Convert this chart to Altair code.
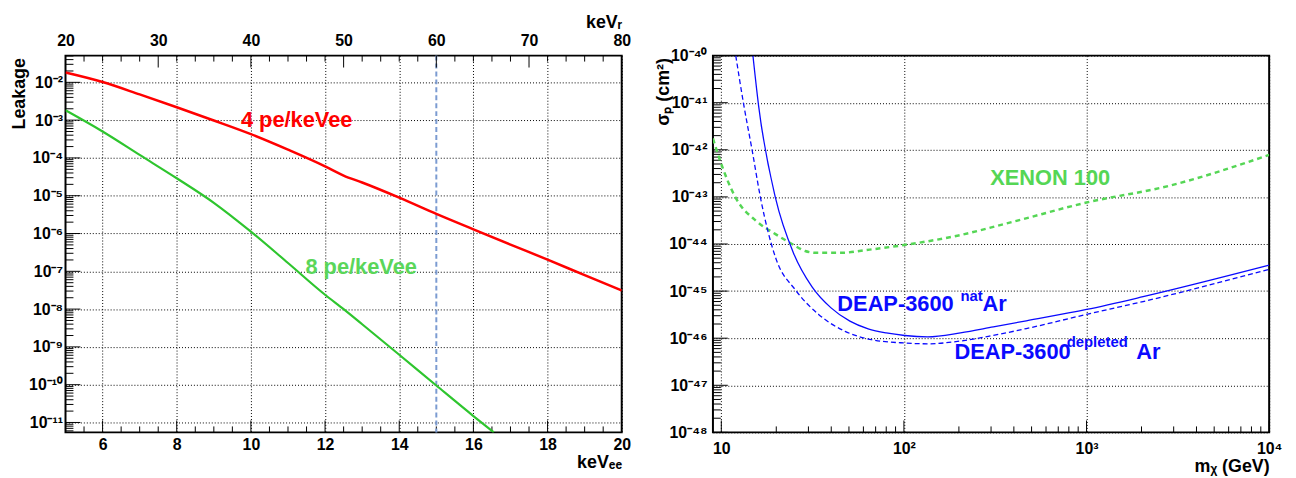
import altair as alt
import pandas as pd

# ---------------- data: left panel (leakage vs energy) ----------------
kevee_4pe = [5, 6, 7, 8, 9, 10, 11, 12, 12.5, 13, 14, 15, 16, 17, 18, 19, 20]
leak_4pe = [1.82e-2, 1.02e-2, 4.8e-3, 2.19e-3, 9.8e-4, 4.27e-4, 1.66e-4, 6.0e-5, 3.4e-5,
            2.24e-5, 8.9e-6, 3.3e-6, 1.29e-6, 5.1e-7, 2.04e-7, 7.9e-8, 3.1e-8]
kevee_8pe = [5, 6, 7, 8, 9, 10, 11, 12, 12.5, 13, 14, 15, 16, 16.55]
leak_8pe = [1.82e-3, 5.0e-4, 1.2e-4, 2.9e-5, 6.5e-6, 1.12e-6, 1.66e-7, 2.4e-8,
            1.0e-8, 3.98e-9, 6.2e-10, 9.5e-11, 1.48e-11, 5.5e-12]
cut_kevee = [15]

left_label_text = ["4 pe/keVee", "8 pe/keVee"]
left_label_x = [9.73, 11.47]
left_label_y = [1.0e-3, 1.3e-7]

# ---------------- data: right panel (cross-section vs WIMP mass) ----------------
mass_nat = [14.9, 16.0, 19.8, 24.9, 31.4, 39.9, 50.6, 63.7, 80, 101, 135, 204, 309,
            468, 1000, 2040, 10000]
sigma_nat = [1e-40, 8.7e-42, 9.5e-44, 6.3e-45, 1.23e-45, 4.4e-46, 2.3e-46, 1.58e-46,
             1.29e-46, 1.14e-46, 1.07e-46, 1.3e-46, 1.74e-46, 2.34e-46, 4.07e-46,
             7.6e-46, 3.55e-45]
mass_dep = [12.0, 13.2, 14.8, 16.4, 19.8, 25.5, 34.1, 47.6, 66.5, 101, 135, 204, 309,
            468, 1000, 2040, 10000]
sigma_dep = [1e-40, 1.02e-41, 9.1e-43, 9.5e-44, 5.2e-45, 1.05e-45, 3.2e-46, 1.4e-46,
             9.3e-47, 7.9e-47, 7.6e-47, 8.7e-47, 1.15e-46, 1.6e-46, 3.2e-46, 6.0e-46,
             2.9e-45]
mass_xe = [9.0, 9.75, 12.0, 15.5, 19.8, 24.4, 28.8, 33, 45, 65, 100, 196, 400, 1000,
           2800, 10000]
sigma_xe = [1.74e-42, 6.6e-43, 9.5e-44, 3.1e-44, 1.62e-44, 1.0e-44, 7.1e-45, 6.5e-45,
            6.5e-45, 7.6e-45, 9.5e-45, 1.5e-44, 3.0e-44, 7.6e-44, 1.7e-43, 7.8e-43]

right_label_text = ["XENON 100", "DEAP-3600", "nat", "Ar", "DEAP-3600", "depleted", "Ar"]
right_label_x = [297, 43.2, 204, 269, 189, 778, 1871]
right_label_y = [2.5e-43, 5.25e-46, 7.9e-46, 5.25e-46, 5.1e-47, 8.1e-47, 5.1e-47]

# ---------------- style ----------------
FONT = "Liberation Sans"
RED = "#ff0000"
GREEN_LINE = "#2ec52e"
GREEN_LABEL = "#5ad65a"
XE_GREEN = "#55d655"
BLUE = "#0a0aff"
CUT = "#7b9bd1"

W, H = 561, 380

SUP = str.maketrans("0123456789-", "⁰¹²³⁴⁵⁶⁷⁸⁹⁻")


def pow_label(e):
    return "10" if e == 1 else "10" + str(e).translate(SUP)


def label_expr(labels, offset, sign):
    arr = "[" + ",".join("'" + s + "'" for s in labels) + "]"
    return f"{arr}[round({sign}log(datum.value)/LN10)-({offset})]"


def decades(lo, hi):
    return [10.0 ** n for n in range(lo, hi + 1)]


def minors(lo, hi, dmin, dmax):
    out = []
    for n in range(lo, hi + 1):
        for k in range(2, 10):
            v = k * 10.0 ** n
            if dmin < v < dmax:
                out.append(v)
    return out


# ================= LEFT PANEL =================
xs_l = alt.Scale(domain=[5, 20], nice=False, zero=False)
ys_l = alt.Scale(type="log", domain=[5.47e-12, 0.051], nice=False)
xs_top = alt.Scale(domain=[20, 80], nice=False, zero=False)

ymaj_l = decades(-11, -2)
ax_y_l = alt.Axis(values=ymaj_l, grid=True,
                  labelExpr=label_expr([pow_label(-n) for n in range(2, 12)], 2, "-"),
                  title="Leakage", titleX=-41, titleY=2, titleAlign="right",
                  titleAngle=270, titleBaseline="alphabetic", labelPadding=3)
ax_x_l = alt.Axis(values=[6, 8, 10, 12, 14, 16, 18, 20], grid=True, format="d",
                  title="keVₑₑ", titleX=W, titleY=35, titleAlign="right",
                  titleAngle=0, titleBaseline="alphabetic", labelPadding=4)
ax_top = alt.Axis(orient="top", values=[20, 30, 40, 50, 60, 70, 80], grid=False,
                  format="d", title="keVᵣ", titleX=W, titleY=-28, titleAlign="right",
                  titleAngle=0, titleBaseline="alphabetic", labelPadding=7)


def LX(f):
    return alt.X(f, type="quantitative", scale=xs_l, axis=ax_x_l)


def LY(f):
    return alt.Y(f, type="quantitative", scale=ys_l, axis=ax_y_l)


df4 = pd.DataFrame({"e": kevee_4pe, "v": leak_4pe})
df8 = pd.DataFrame({"e": kevee_8pe, "v": leak_8pe})
dfcut = pd.DataFrame({"e": cut_kevee})
dflab_l = pd.DataFrame({"t": left_label_text, "e": left_label_x, "v": left_label_y})

line4 = alt.Chart(df4).mark_line(color=RED, strokeWidth=2.5, clip=True,
                                 interpolate="monotone").encode(x=LX("e"), y=LY("v"))
line8 = alt.Chart(df8).mark_line(color=GREEN_LINE, strokeWidth=2.2, clip=True,
                                 interpolate="monotone").encode(x=LX("e"), y=LY("v"))
cut_rule = alt.Chart(dfcut).mark_rule(color=CUT, strokeWidth=2, strokeDash=[5, 3]).encode(
    x=LX("e"))
lab_l = alt.Chart(dflab_l).mark_text(font=FONT, fontWeight="bold", fontSize=22,
                                     align="left", baseline="middle").encode(
    x=LX("e"), y=LY("v"), text="t:N",
    color=alt.Color("t:N", scale=alt.Scale(domain=left_label_text,
                                           range=[RED, GREEN_LABEL]), legend=None))

# inner tick marks
yt_maj_l = alt.Chart(pd.DataFrame({"v": ymaj_l})).mark_rule(color="black").encode(
    y=LY("v"), x=alt.value(0), x2=alt.value(15))
yt_min_l = alt.Chart(pd.DataFrame({"v": minors(-12, -2, 5.47e-12, 0.051)})).mark_rule(
    color="black").encode(y=LY("v"), x=alt.value(0), x2=alt.value(8))
xt_maj_l = alt.Chart(pd.DataFrame({"e": [6, 8, 10, 12, 14, 16, 18]})).mark_rule(
    color="black").encode(x=LX("e"), y=alt.value(H), y2=alt.value(H - 12))
xt_min_l = alt.Chart(pd.DataFrame({"e": [v / 2 for v in range(11, 40) if v % 4 != 0]})).mark_rule(
    color="black").encode(x=LX("e"), y=alt.value(H), y2=alt.value(H - 6))

inner_l = alt.layer(yt_min_l, yt_maj_l, xt_min_l, xt_maj_l, cut_rule, line4, line8, lab_l)

top_maj = alt.Chart(pd.DataFrame({"r": [30, 40, 50, 60, 70]})).mark_rule(color="black").encode(
    x=alt.X("r:Q", scale=xs_top, axis=ax_top), y=alt.value(0), y2=alt.value(12))
top_min = alt.Chart(pd.DataFrame({"r": [v for v in range(22, 80, 2) if v % 10 != 0]})).mark_rule(
    color="black").encode(x=alt.X("r:Q", scale=xs_top, axis=ax_top), y=alt.value(0),
                          y2=alt.value(6))
top_l = alt.layer(top_min, top_maj)

left = alt.layer(inner_l, top_l).resolve_scale(x="independent").properties(width=W, height=H)

# ================= RIGHT PANEL =================
xs_r = alt.Scale(type="log", domain=[9, 10000], nice=False)
ys_r = alt.Scale(type="log", domain=[1e-48, 1e-40], nice=False)
ymaj_r = decades(-48, -40)
xmaj_r = decades(1, 4)
ax_y_r = alt.Axis(values=ymaj_r, grid=True,
                  labelExpr=label_expr([pow_label(-n) for n in range(40, 49)], 40, "-"),
                  title="σₚ (cm²)", titleX=-45, titleY=2, titleAlign="right",
                  titleAngle=270, titleBaseline="alphabetic", labelPadding=6)
ax_x_r = alt.Axis(values=xmaj_r, grid=True,
                  labelExpr=label_expr([pow_label(e) for e in range(1, 5)], 1, ""),
                  title="mᵪ (GeV)", titleX=W, titleY=39, titleAlign="right",
                  titleAngle=0, titleBaseline="alphabetic", labelPadding=8)


def RX(f):
    return alt.X(f, type="quantitative", scale=xs_r, axis=ax_x_r)


def RY(f):
    return alt.Y(f, type="quantitative", scale=ys_r, axis=ax_y_r)


dfnat = pd.DataFrame({"m": mass_nat, "s": sigma_nat})
dfdep = pd.DataFrame({"m": mass_dep, "s": sigma_dep})
dfxe = pd.DataFrame({"m": mass_xe, "s": sigma_xe})
dflab_r = pd.DataFrame({"t": right_label_text, "m": right_label_x, "s": right_label_y,
                        "k": ["xe", "big", "small", "big", "big", "small", "big"]})

l_nat = alt.Chart(dfnat).mark_line(color=BLUE, strokeWidth=1.3, clip=True,
                                   interpolate="monotone").encode(x=RX("m"), y=RY("s"))
l_dep = alt.Chart(dfdep).mark_line(color=BLUE, strokeWidth=1.3, strokeDash=[5, 3],
                                   clip=True, interpolate="monotone").encode(
    x=RX("m"), y=RY("s"))
l_xe = alt.Chart(dfxe).mark_line(color=XE_GREEN, strokeWidth=2.5, strokeDash=[5, 4],
                                 clip=True, interpolate="monotone").encode(
    x=RX("m"), y=RY("s"))

lab_xe = alt.Chart(dflab_r).transform_filter("datum.k == 'xe'").mark_text(
    font=FONT, fontWeight="bold", fontSize=22, align="left", baseline="middle",
    color=XE_GREEN).encode(x=RX("m"), y=RY("s"), text="t:N")
lab_big = alt.Chart(dflab_r).transform_filter("datum.k == 'big'").mark_text(
    font=FONT, fontWeight="bold", fontSize=22, align="left", baseline="middle",
    color=BLUE).encode(x=RX("m"), y=RY("s"), text="t:N")
lab_small = alt.Chart(dflab_r).transform_filter("datum.k == 'small'").mark_text(
    font=FONT, fontWeight="bold", fontSize=15, align="left", baseline="middle",
    color=BLUE).encode(x=RX("m"), y=RY("s"), text="t:N")

yt_maj_r = alt.Chart(pd.DataFrame({"s": ymaj_r})).mark_rule(color="black").encode(
    y=RY("s"), x=alt.value(0), x2=alt.value(15))
yt_min_r = alt.Chart(pd.DataFrame({"s": minors(-48, -41, 1e-48, 1e-40)})).mark_rule(
    color="black").encode(y=RY("s"), x=alt.value(0), x2=alt.value(8))
xt_maj_r = alt.Chart(pd.DataFrame({"m": xmaj_r})).mark_rule(color="black").encode(
    x=RX("m"), y=alt.value(H), y2=alt.value(H - 12))
xt_min_r = alt.Chart(pd.DataFrame({"m": minors(0, 3, 9, 10000)})).mark_rule(
    color="black").encode(x=RX("m"), y=alt.value(H), y2=alt.value(H - 6))

right = alt.layer(yt_min_r, yt_maj_r, xt_min_r, xt_maj_r, l_xe, l_dep, l_nat,
                  lab_xe, lab_big, lab_small).properties(width=W, height=H)

chart = alt.hconcat(left, right, spacing=22).properties(
    padding={"left": 2, "top": 3, "right": 5, "bottom": 2}
).configure_axis(
    labelFont=FONT, labelFontSize=16, labelFontWeight="bold", labelColor="black",
    titleFont=FONT, titleFontSize=18, titleFontWeight="bold", titleColor="black",
    ticks=False, tickSize=0, domain=False, labelFlush=False, labelOverlap=False,
    gridColor="black", gridDash=[1, 2], gridOpacity=1, gridWidth=1,
).configure_view(stroke="black", strokeWidth=2)

chart.save("out.html", embed_options={"renderer": "svg", "actions": False})
